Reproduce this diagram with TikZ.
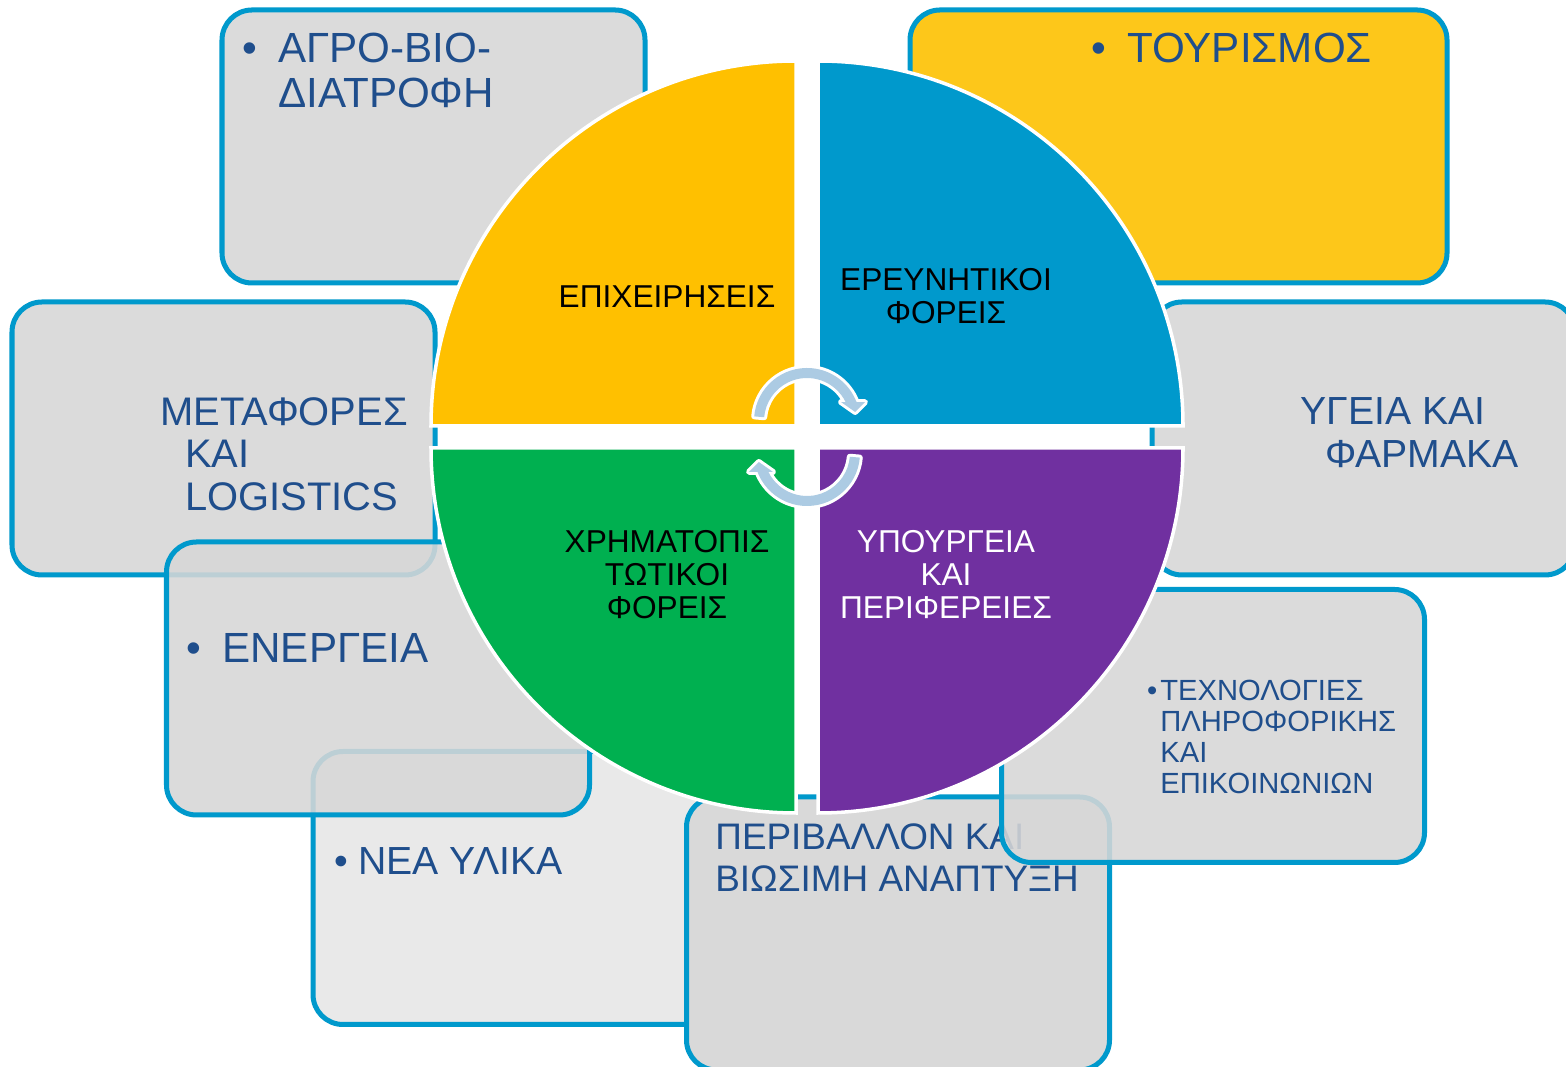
\documentclass[tikz,border=0pt]{standalone}
\usepackage{fontspec}
\setmainfont{Liberation Sans}
\usepackage{tikz}
\definecolor{boxblue}{RGB}{0,153,204}
\definecolor{boxgray}{RGB}{215,215,215}
\definecolor{perigray}{RGB}{217,217,217}
\definecolor{palegray}{RGB}{230,230,230}
\definecolor{textblue}{RGB}{31,78,140}
\definecolor{tourgold}{RGB}{253,199,26}
\definecolor{qyellow}{RGB}{255,192,0}
\definecolor{qblue}{RGB}{0,153,204}
\definecolor{qgreen}{RGB}{0,176,80}
\definecolor{qpurple}{RGB}{112,48,160}
\definecolor{arrowblue}{RGB}{172,203,227}

\begin{document}
\begin{tikzpicture}[
        area/.style={draw=boxblue, line width=2.85pt, rounded corners=0.6cm, fill=boxgray, fill opacity=0.88, draw opacity=1, minimum width=8.46cm, minimum height=5.46cm, inner sep=0pt},
        bigtext/.style={text=textblue, font=\fontsize{24}{25.2}\selectfont, align=left, anchor=north west, inner sep=0pt},
        smalltext/.style={text=textblue, font=\fontsize{16.6}{17.6}\selectfont, align=left, anchor=north west, inner sep=0pt},
        quadtext/.style={font=\fontsize{18}{18.8}\selectfont, align=center, inner sep=0pt},
        quad/.style={draw=white, line width=2pt},
        cyclearrow/.style={fill=arrowblue, preaction={draw=white, line width=3.4pt, line join=round}}]
                \useasboundingbox (0,0) rectangle (31.32,21.34);
                \fill[white] (0,0) rectangle (31.32,21.34);
                \node[area] (agro) at (8.67,18.41) {};
                \node[bigtext] (agrotext) at (5.56,20.68) {\llap{•\hspace{0.42cm}}ΑΓΡΟ-ΒΙΟ-\\ΔΙΑΤΡΟΦΗ};
                \node[area, fill=tourgold, fill opacity=1, minimum width=10.74cm] (tour) at (23.57,18.41) {};
                \node[bigtext] (tourtext) at (22.54,20.68) {\llap{•\hspace{0.42cm}}ΤΟΥΡΙΣΜΟΣ};
                \node[area] (meta) at (4.47,12.57) {};
                \node[bigtext, font=\fontsize{22.7}{24.2}\selectfont] (metatext) at (3.20,13.40) {ΜΕΤΑΦΟΡΕΣ\\\hspace*{0.5cm}ΚΑΙ\\\hspace*{0.5cm}LOGISTICS};
                \node[area] (ygeia) at (27.27,12.57) {};
                \node[bigtext, font=\fontsize{22.3}{24.3}\selectfont] (ygeiatext) at (26.00,13.40) {ΥΓΕΙΑ ΚΑΙ\\\hspace*{0.5cm}ΦΑΡΜΑΚΑ};
                \node[area, fill=palegray] (nea) at (10.49,3.58) {};
                \node[bigtext, font=\fontsize{22.3}{24.3}\selectfont] (neatext) at (7.16,4.40) {\llap{•\hspace{0.21cm}}ΝΕΑ ΥΛΙΚΑ};
                \node[area] (ener) at (7.56,7.77) {};
                \node[bigtext] (enertext) at (4.44,8.68) {\llap{•\hspace{0.42cm}}ΕΝΕΡΓΕΙΑ};
                \node[area, fill=perigray, fill opacity=1] (peri) at (17.96,2.67) {};
                \node[bigtext, font=\fontsize{21}{24.4}\selectfont] (peritext) at (14.30,4.88) {ΠΕΡΙΒΑΛΛΟΝ ΚΑΙ\\ΒΙΩΣΙΜΗ ΑΝΑΠΤΥΞΗ};
                \node[area] (tech) at (24.26,6.82) {};
                \node[smalltext] (techtext) at (23.20,7.74) {\llap{•\hspace{0.06cm}}ΤΕΧΝΟΛΟΓΙΕΣ\\ΠΛΗΡΟΦΟΡΙΚΗΣ\\ΚΑΙ\\ΕΠΙΚΟΙΝΩΝΙΩΝ};
                \filldraw[quad, fill=qyellow] (15.92,12.82) -- (8.62,12.82) arc[start angle=180, end angle=90, radius=7.3] -- cycle;
                \filldraw[quad, fill=qblue] (16.36,12.82) -- (16.36,20.12) arc[start angle=90, end angle=0, radius=7.3] -- cycle;
                \filldraw[quad, fill=qgreen] (15.92,12.38) -- (15.92,5.08) arc[start angle=270, end angle=180, radius=7.3] -- cycle;
                \filldraw[quad, fill=qpurple] (16.36,12.38) -- (23.66,12.38) arc[start angle=0, end angle=-90, radius=7.3] -- cycle;
                \node[quadtext] (firms) at (13.34,15.40) {ΕΠΙΧΕΙΡΗΣΕΙΣ};
                \node[quadtext] (research) at (18.92,15.42) {ΕΡΕΥΝΗΤΙΚΟΙ\\ΦΟΡΕΙΣ};
                \node[quadtext] (finance) at (13.34,9.84) {ΧΡΗΜΑΤΟΠΙΣ\\ΤΩΤΙΚΟΙ\\ΦΟΡΕΙΣ};
                \node[quadtext, text=white] (ministries) at (18.92,9.84) {ΥΠΟΥΡΓΕΙΑ\\ΚΑΙ\\ΠΕΡΙΦΕΡΕΙΕΣ};
                \fill[cyclearrow, shift={(16.14,12.92)}] (175:1.06) arc[start angle=175, end angle=21, radius=1.06] -- (18:1.22) -- (10.6:0.98) -- (29:0.78) -- (26:0.86) arc[start angle=26, end angle=175, radius=0.86] -- cycle;
                \fill[cyclearrow, shift={(16.14,12.28)}] (355:1.06) arc[start angle=355, end angle=201, radius=1.06] -- (198:1.22) -- (190.6:0.98) -- (209:0.78) -- (206:0.86) arc[start angle=206, end angle=355, radius=0.86] -- cycle;
\end{tikzpicture}
\end{document}
